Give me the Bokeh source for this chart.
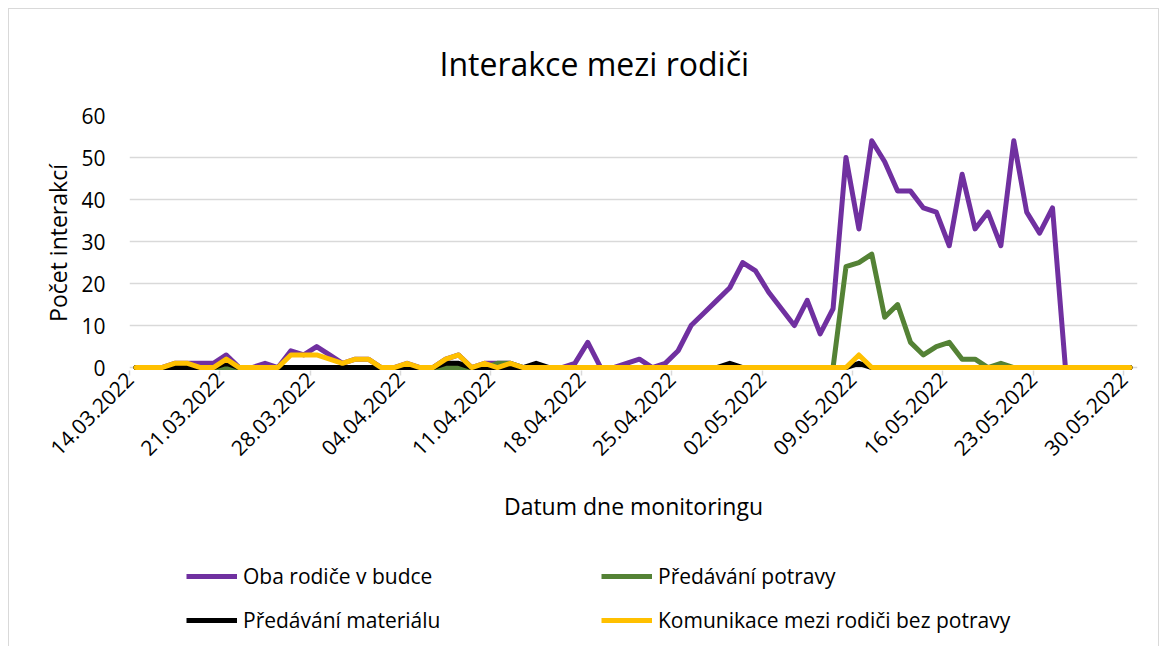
import pandas as pd
from bokeh.plotting import figure
from bokeh.layouts import column
from bokeh.models import (ColumnDataSource, FixedTicker, DatetimeTickFormatter,
                          Legend, LegendItem, Range1d)
from bokeh.embed import file_html
from bokeh.resources import INLINE

# ---------------- data ----------------
start_date = "2022-03-14"
n_days = 78

oba_rodice_v_budce = [0, 0, 0, 1, 1, 1, 1, 3, 0, 0,
                      1, 0, 4, 3, 5, 3, 1, 2, 2, 0,
                      0, 1, 0, 0, 2, 3, 0, 1, 1, 1,
                      0, 0, 0, 0, 1, 6, 0, 0, 1, 2,
                      0, 1, 4, 10, 13, 16, 19, 25, 23, 18,
                      14, 10, 16, 8, 14, 50, 33, 54, 49, 42,
                      42, 38, 37, 29, 46, 33, 37, 29, 54, 37,
                      32, 38, 0, 0, 0, 0, 0, 0]

predavani_potravy = [0, 0, 0, 0, 0, 0, 0, 0, 0, 0,
                     0, 0, 0, 0, 0, 0, 0, 0, 0, 0,
                     0, 0, 0, 0, 0, 0, 0, 0, 1, 1,
                     0, 0, 0, 0, 0, 0, 0, 0, 0, 0,
                     0, 0, 0, 0, 0, 0, 0, 0, 0, 0,
                     0, 0, 0, 0, 0, 24, 25, 27, 12, 15,
                     6, 3, 5, 6, 2, 2, 0, 1, 0, 0,
                     0, 0, 0, 0, 0, 0, 0, 0]

predavani_materialu = [0, 0, 0, 0, 0, 0, 0, 1, 0, 0,
                       0, 0, 0, 0, 0, 0, 0, 0, 0, 0,
                       0, 0, 0, 0, 1, 1, 0, 0, 0, 0,
                       0, 1, 0, 0, 0, 0, 0, 0, 0, 0,
                       0, 0, 0, 0, 0, 0, 1, 0, 0, 0,
                       0, 0, 0, 0, 0, 0, 1, 0, 0, 0,
                       0, 0, 0, 0, 0, 0, 0, 0, 0, 0,
                       0, 0, 0, 0, 0, 0, 0, 0]

komunikace_bez_potravy = [0, 0, 0, 1, 1, 0, 0, 2, 0, 0,
                          0, 0, 3, 3, 3, 2, 1, 2, 2, 0,
                          0, 1, 0, 0, 2, 3, 0, 1, 0, 1,
                          0, 0, 0, 0, 0, 0, 0, 0, 0, 0,
                          0, 0, 0, 0, 0, 0, 0, 0, 0, 0,
                          0, 0, 0, 0, 0, 0, 3, 0, 0, 0,
                          0, 0, 0, 0, 0, 0, 0, 0, 0, 0,
                          0, 0, 0, 0, 0, 0, 0, 0]

series_names = ["Oba rodiče v budce", "Předávání potravy",
                "Předávání materiálu", "Komunikace mezi rodiči bez potravy"]
series_colors = ["#7030A0", "#548235", "#000000", "#FFC000"]

tick_labels = ["14.03.2022", "21.03.2022", "28.03.2022", "04.04.2022",
               "11.04.2022", "18.04.2022", "25.04.2022", "02.05.2022",
               "09.05.2022", "16.05.2022", "23.05.2022", "30.05.2022"]
y_ticks = [0, 10, 20, 30, 40, 50, 60]

title_text = "Interakce mezi rodiči"
x_title = "Datum dne monitoringu"
y_title = "Počet interakcí"

# ---------------- build ----------------
FONT = "Open Sans"
LINE_W = 5
dates = pd.date_range(start_date, periods=n_days, freq="D")
x_vals = dates + pd.Timedelta(hours=12)   # points centred in each day slot

source = ColumnDataSource(dict(
    x=x_vals,
    s0=oba_rodice_v_budce,
    s1=predavani_potravy,
    s2=predavani_materialu,
    s3=komunikace_bez_potravy,
))

tick_ms = [int(pd.to_datetime(t, format="%d.%m.%Y").value // 10**6)
           for t in tick_labels]
x_start = pd.Timestamp(start_date)
x_end = dates[-1] + pd.Timedelta(hours=26)

W = 1149
H1 = 540
H2 = 97

p = figure(width=W, height=H1, output_backend="svg", toolbar_location=None,
           x_axis_type="datetime",
           x_range=Range1d(x_start, x_end), y_range=Range1d(-0.7, 60),
           min_border_left=120, min_border_right=21,
           min_border_top=104, min_border_bottom=H1 - 361,
           title=title_text)
p.outline_line_color = None
p.background_fill_color = "white"
p.border_fill_color = "white"

p.title.text_font = FONT
p.title.text_font_size = "32px"
p.title.text_font_style = "normal"
p.title.text_color = "#000000"
p.title.align = "left"
p.title.offset = 310
p.title.standoff = 61

for i, col in enumerate(series_colors):
    p.line("x", f"s{i}", source=source, line_color=col, line_width=LINE_W,
           line_join="round", line_cap="round")

# axes
xa = p.xaxis[0]
xa.ticker = FixedTicker(ticks=tick_ms)
fmt = "%d.%m.%Y"
xa.formatter = DatetimeTickFormatter(days=fmt, months=fmt, years=fmt, hours=fmt,
                                     hourmin=fmt, minutes=fmt, minsec=fmt,
                                     seconds=fmt, milliseconds=fmt, microseconds=fmt)
xa.major_label_orientation = 0.7853981634
xa.axis_line_color = None
xa.major_tick_line_color = "#d9d9d9"
xa.major_tick_line_width = 1.5
xa.major_tick_out = 5
xa.major_tick_in = 0
xa.minor_tick_line_color = None
xa.major_label_standoff = 0
xa.major_label_text_font = FONT
xa.major_label_text_font_size = "21px"
xa.major_label_text_color = "#000000"
xa.axis_label = x_title
xa.axis_label_text_font = FONT
xa.axis_label_text_font_size = "23px"
xa.axis_label_text_font_style = "normal"
xa.axis_label_text_color = "#000000"
xa.axis_label_standoff = 24

ya = p.yaxis[0]
ya.ticker = FixedTicker(ticks=y_ticks)
ya.axis_line_color = None
ya.major_tick_line_color = None
ya.minor_tick_line_color = None
ya.major_label_standoff = 18
ya.major_label_text_font = FONT
ya.major_label_text_font_size = "21px"
ya.major_label_text_color = "#000000"
ya.axis_label = y_title
ya.axis_label_text_font = FONT
ya.axis_label_text_font_size = "23px"
ya.axis_label_text_font_style = "normal"
ya.axis_label_text_color = "#000000"
ya.axis_label_standoff = 4

p.xgrid.grid_line_color = None
p.ygrid.ticker = FixedTicker(ticks=y_ticks)
p.ygrid.grid_line_color = "#d9d9d9"
p.ygrid.grid_line_width = 1.5

# ---- legend strip (separate figure sharing the series styles) ----
p2 = figure(width=W, height=H2, output_backend="svg", toolbar_location=None,
            x_range=Range1d(0, 1), y_range=Range1d(0, 1),
            x_axis_location=None, y_axis_location=None, min_border=0)
p2.grid.visible = False
p2.outline_line_color = None
p2.background_fill_color = "white"
p2.border_fill_color = "white"

nan = float("nan")
leg_renderers = [p2.line(x=[nan], y=[nan], line_color=col, line_width=LINE_W)
                 for col in series_colors]
legend = Legend(items=[LegendItem(label=n, renderers=[r])
                       for n, r in zip(series_names, leg_renderers)],
                location=(57, 12), orientation="horizontal", ncols=2,
                glyph_width=51, glyph_height=24, label_height=24, label_width=342,
                label_standoff=6, spacing=16, padding=10, margin=0,
                border_line_color=None, background_fill_alpha=0,
                label_text_font=FONT, label_text_font_size="21px",
                label_text_color="#000000")
p2.add_layout(legend)

layout = column(p, p2, spacing=0)
layout.styles = {"margin-left": "8px", "margin-top": "8px",
                 "border-left": "1px solid #d9d9d9",
                 "border-top": "1px solid #d9d9d9",
                 "border-right": "1px solid #d9d9d9"}

open("out.html", "w").write(file_html(layout, INLINE))
